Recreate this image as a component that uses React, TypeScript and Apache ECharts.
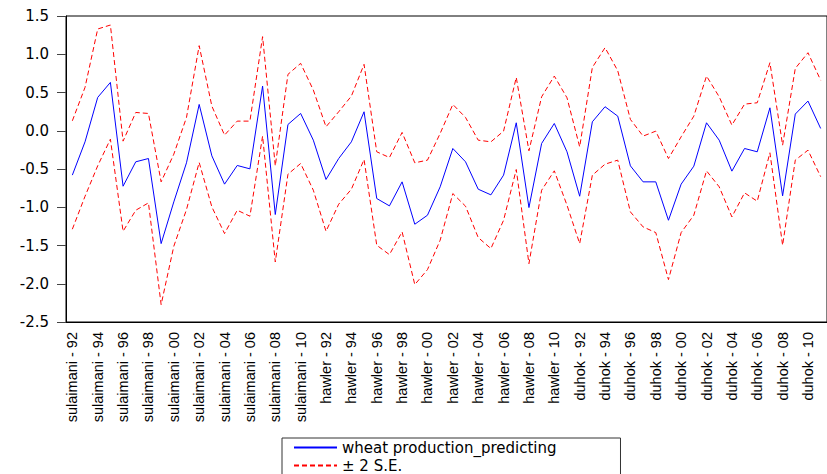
import React, { useEffect, useRef } from "react";
import * as echarts from "echarts";

const regions = ["sulaimani", "hawler", "duhok"];
const years = ["92", "93", "94", "95", "96", "97", "98", "99", "00", "01", "02", "03", "04", "05", "06", "07", "08", "09", "10", "11"];
const yTicks = { min: -2.5, max: 1.5, interval: 0.5 };

const predicted = [
  -0.58, -0.145, 0.436, 0.632, -0.725, -0.406, -0.363, -1.475, -0.93, -0.419,
  0.344, -0.328, -0.698, -0.454, -0.498, 0.584, -1.095, 0.082, 0.226, -0.123,
  -0.637, -0.363, -0.145, 0.248, -0.886, -0.982, -0.668, -1.222, -1.104, -0.733,
  -0.232, -0.406, -0.764, -0.838, -0.58, 0.104, -1.004, -0.166, 0.095, -0.275,
  -0.856, 0.117, 0.314, 0.191, -0.459, -0.668, -0.668, -1.17, -0.698, -0.463,
  0.104, -0.123, -0.528, -0.232, -0.275, 0.3, -0.851, 0.218, 0.388, 0.03,
];
const upper = [
  0.13, 0.567, 1.33, 1.382, -0.136, 0.239, 0.226, -0.668, -0.306, 0.174,
  1.112, 0.322, -0.057, 0.126, 0.126, 1.23, -0.459, 0.737, 0.881, 0.532,
  0.052, 0.248, 0.453, 0.868, -0.275, -0.35, -0.022, -0.419, -0.384, -0.035,
  0.344, 0.174, -0.123, -0.145, -0.005, 0.697, -0.262, 0.444, 0.715, 0.431,
  -0.21, 0.828, 1.086, 0.785, 0.148, -0.07, -0.005, -0.363, -0.079, 0.191,
  0.715, 0.444, 0.074, 0.348, 0.366, 0.889, -0.188, 0.815, 1.02, 0.66,
];
const lower = [
  -1.287, -0.857, -0.458, -0.11, -1.314, -1.039, -0.943, -2.273, -1.51, -1.03,
  -0.415, -0.995, -1.344, -1.039, -1.117, -0.07, -1.715, -0.568, -0.428, -0.777,
  -1.314, -0.96, -0.764, -0.376, -1.497, -1.619, -1.322, -2.011, -1.815, -1.431,
  -0.821, -0.986, -1.396, -1.54, -1.17, -0.507, -1.737, -0.777, -0.524, -0.973,
  -1.475, -0.581, -0.437, -0.384, -1.061, -1.257, -1.331, -1.946, -1.331, -1.104,
  -0.524, -0.733, -1.126, -0.812, -0.921, -0.288, -1.497, -0.384, -0.254, -0.6,
];

const seriesNames = ["wheat production_predicting", "\u00b1 2 S.E."];

const categories: string[] = [];
regions.forEach((r) => years.forEach((y) => categories.push(r + " - " + y)));

export default function App() {
  const ref = useRef<HTMLDivElement>(null);
  useEffect(() => {
    if (!ref.current) return;
    const chart = echarts.init(ref.current, null, { renderer: "svg" });
    const dash = { color: "#ff0000", width: 1, type: [5, 3] as any };
    chart.setOption({
      animation: false,
      backgroundColor: "#ffffff",
      grid: {
        left: 66,
        right: -9.5,
        top: 16,
        bottom: 152,
        show: true,
        borderColor: "#000",
        borderWidth: 1,
      },
      legend: {
        orient: "vertical",
        left: 282,
        top: 438,
        height: 60,
        data: seriesNames,
        itemWidth: 43,
        itemHeight: 12,
        itemGap: 3,
        padding: [2, 64, 12, 11],
        borderColor: "#333",
        borderWidth: 1,
        borderRadius: 0,
        backgroundColor: "#fff",
        itemStyle: { opacity: 0 },
        textStyle: { fontFamily: "DejaVu Sans", fontSize: 15, color: "#000" },
      },
      xAxis: {
        type: "category",
        data: categories,
        boundaryGap: true,
        axisLine: { onZero: false, lineStyle: { color: "#000", width: 1 } },
        axisTick: { interval: 0, length: 5, lineStyle: { color: "#000" } },
        axisLabel: {
          interval: 1,
          rotate: 90,
          margin: 10,
          color: "#000",
          fontFamily: "Liberation Sans, Arial",
          fontSize: 14.5,
        },
        splitLine: { show: false },
      },
      yAxis: {
        type: "value",
        min: yTicks.min,
        max: yTicks.max,
        interval: yTicks.interval,
        axisLine: { show: true, lineStyle: { color: "#000", width: 1 } },
        axisTick: { show: true, length: 9, lineStyle: { color: "#444" } },
        axisLabel: {
          margin: 17,
          color: "#000",
          fontFamily: "DejaVu Sans",
          fontSize: 15,
          formatter: (v: number) => v.toFixed(1),
        },
        splitLine: { show: false },
      },
      series: [
        {
          name: seriesNames[0],
          type: "line",
          data: predicted,
          symbol: "none",
          lineStyle: { color: "#0000ff", width: 1 },
          itemStyle: { color: "#0000ff" },
        },
        {
          name: seriesNames[1],
          type: "line",
          data: upper,
          symbol: "none",
          lineStyle: dash,
          itemStyle: { color: "#ff0000" },
        },
        {
          name: seriesNames[1],
          type: "line",
          data: lower,
          symbol: "none",
          lineStyle: dash,
          itemStyle: { color: "#ff0000" },
        },
      ],
    });
    return () => chart.dispose();
  }, []);
  return (
    <div
      ref={ref}
      style={{ position: "fixed", left: 0, top: 0, width: 827, height: 474, background: "#fff" }}
    />
  );
}
